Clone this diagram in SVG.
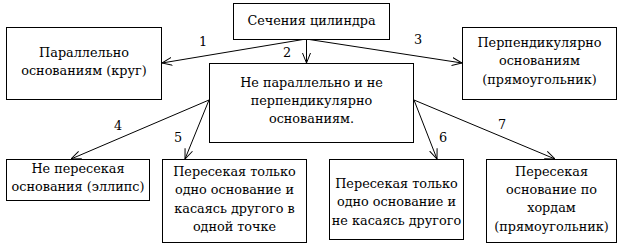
<svg xmlns="http://www.w3.org/2000/svg" width="625" height="247" viewBox="0 0 625 247" font-family="'DejaVu Serif', serif" font-size="12.8" text-anchor="middle">
<style>
.box{fill:#fff;stroke:#000;stroke-width:1}
.c{stroke:#000;stroke-width:1;fill:none;marker-end:url(#ah)}
</style>
<defs>
<marker id="ah" viewBox="0 0 10 10" refX="10" refY="5" markerWidth="10" markerHeight="10" markerUnits="userSpaceOnUse" orient="auto">
<path d="M0,1 L10,5 L0,9" fill="none" stroke="#000" stroke-width="1"/>
</marker>
</defs>
<rect width="625" height="247" fill="#fff"/>
<g id="connectors">
<line class="c" x1="306" y1="39" x2="162" y2="63"/>
<line class="c" x1="306.5" y1="39" x2="306.5" y2="63"/>
<line class="c" x1="306" y1="39" x2="462" y2="63"/>
<line class="c" x1="209" y1="100" x2="71" y2="159"/>
<line class="c" x1="209" y1="100" x2="185" y2="159"/>
<line class="c" x1="414" y1="100" x2="437" y2="159"/>
<line class="c" x1="414" y1="100" x2="555" y2="159"/>
<text x="203" y="46">1</text>
<text x="287" y="57">2</text>
<text x="418" y="44">3</text>
<text x="118" y="130">4</text>
<text x="178" y="142">5</text>
<text x="443" y="142">6</text>
<text x="502" y="129">7</text>
</g>
<g id="root">
<rect class="box" x="233.5" y="3.5" width="156" height="36"/>
<text x="311.5" y="25">Сечения цилиндра</text>
</g>
<g id="parallel">
<rect class="box" x="6.5" y="27.5" width="155" height="72"/>
<text x="84" y="57">Параллельно</text>
<text x="84" y="75">основаниям (круг)</text>
</g>
<g id="middle">
<rect class="box" x="209.5" y="63.5" width="204" height="79"/>
<text x="311.5" y="87">Не параллельно и не</text>
<text x="311.5" y="105">перпендикулярно</text>
<text x="311.5" y="123">основаниям.</text>
</g>
<g id="perpendicular">
<rect class="box" x="462.5" y="27.5" width="154" height="72"/>
<text x="539.5" y="47">Перпендикулярно</text>
<text x="539.5" y="65">основаниям</text>
<text x="539.5" y="84">(прямоугольник)</text>
</g>
<g id="ellipse">
<rect class="box" x="6.5" y="159.5" width="143" height="41"/>
<text x="78" y="173">Не пересекая</text>
<text x="78" y="191">основания (эллипс)</text>
</g>
<g id="touching">
<rect class="box" x="162.5" y="159.5" width="144" height="83"/>
<text x="234.5" y="176">Пересекая только</text>
<text x="234.5" y="194">одно основание и</text>
<text x="234.5" y="213">касаясь другого в</text>
<text x="234.5" y="231">одной точке</text>
</g>
<g id="nottouching">
<rect class="box" x="329.5" y="159.5" width="134" height="80"/>
<text x="396.5" y="188">Пересекая только</text>
<text x="396.5" y="206">одно основание и</text>
<text x="396.5" y="225">не касаясь другого</text>
</g>
<g id="chords">
<rect class="box" x="486.5" y="159.5" width="130" height="83"/>
<text x="551.5" y="176">Пересекая</text>
<text x="551.5" y="194">основание по</text>
<text x="551.5" y="212">хордам</text>
<text x="551.5" y="231">(прямоугольник)</text>
</g>
</svg>
